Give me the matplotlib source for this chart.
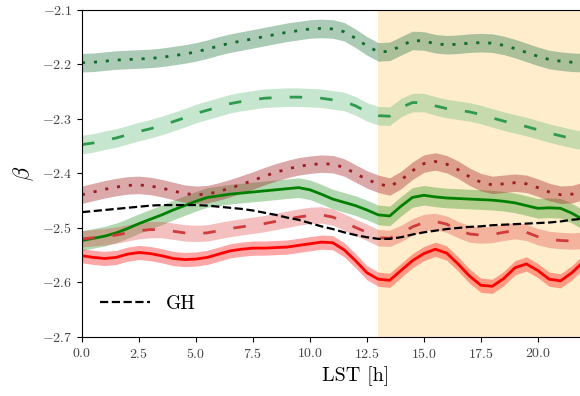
import numpy as np
import matplotlib
matplotlib.use('Agg')
import matplotlib.pyplot as plt

plt.rcParams['font.family'] = 'serif'
plt.rcParams['font.serif'] = ['cmr10', 'DejaVu Serif']
plt.rcParams['mathtext.fontset'] = 'cm'
plt.rcParams['axes.formatter.use_mathtext'] = True

# LST grid (h), values every half hour
lst = np.arange(0, 24.5, 0.5)

dark_green_dot = [-2.197, -2.196, -2.194, -2.192, -2.191, -2.190, -2.189, -2.187, -2.184, -2.181,
                  -2.177, -2.172, -2.166, -2.161, -2.157, -2.153, -2.149, -2.145, -2.141, -2.138,
                  -2.135, -2.134, -2.135, -2.140, -2.152, -2.166, -2.177, -2.176, -2.166, -2.156,
                  -2.157, -2.162, -2.164, -2.163, -2.161, -2.160, -2.161, -2.165, -2.171, -2.178,
                  -2.185, -2.191, -2.194, -2.196, -2.197, -2.198, -2.199, -2.200, -2.200]
green_dash = [-2.347, -2.344, -2.339, -2.335, -2.329, -2.323, -2.318, -2.312, -2.305, -2.298,
              -2.290, -2.284, -2.278, -2.272, -2.268, -2.265, -2.262, -2.261, -2.260, -2.260,
              -2.261, -2.262, -2.265, -2.268, -2.276, -2.287, -2.294, -2.295, -2.279, -2.270,
              -2.270, -2.276, -2.281, -2.284, -2.287, -2.292, -2.298, -2.304, -2.309, -2.314,
              -2.320, -2.326, -2.331, -2.336, -2.340, -2.343, -2.346, -2.348, -2.350]
green_solid = [-2.523, -2.519, -2.515, -2.509, -2.501, -2.492, -2.484, -2.476, -2.467, -2.459,
               -2.451, -2.444, -2.441, -2.438, -2.436, -2.434, -2.432, -2.430, -2.428, -2.426,
               -2.430, -2.438, -2.447, -2.453, -2.459, -2.467, -2.476, -2.478, -2.460, -2.444,
               -2.440, -2.443, -2.445, -2.446, -2.447, -2.448, -2.449, -2.451, -2.454, -2.459,
               -2.464, -2.463, -2.464, -2.473, -2.485, -2.492, -2.497, -2.500, -2.502]
dark_red_dot = [-2.439, -2.434, -2.429, -2.425, -2.422, -2.421, -2.423, -2.427, -2.432, -2.437,
                -2.439, -2.438, -2.433, -2.427, -2.420, -2.413, -2.405, -2.398, -2.392, -2.387,
                -2.384, -2.382, -2.383, -2.389, -2.400, -2.411, -2.419, -2.424, -2.412, -2.395,
                -2.382, -2.378, -2.383, -2.393, -2.406, -2.416, -2.421, -2.419, -2.417, -2.419,
                -2.426, -2.434, -2.439, -2.438, -2.432, -2.428, -2.426, -2.425, -2.425]
red_dash = [-2.520, -2.518, -2.516, -2.513, -2.509, -2.505, -2.503, -2.503, -2.506, -2.509,
            -2.510, -2.509, -2.505, -2.501, -2.498, -2.495, -2.492, -2.488, -2.484, -2.480,
            -2.477, -2.476, -2.480, -2.489, -2.499, -2.508, -2.518, -2.519, -2.510, -2.498,
            -2.490, -2.488, -2.493, -2.503, -2.511, -2.513, -2.512, -2.508, -2.505, -2.508,
            -2.516, -2.521, -2.523, -2.524, -2.523, -2.520, -2.518, -2.517, -2.517]
red_solid = [-2.551, -2.554, -2.556, -2.554, -2.548, -2.545, -2.547, -2.551, -2.556, -2.558,
             -2.557, -2.554, -2.548, -2.542, -2.539, -2.537, -2.537, -2.536, -2.535, -2.532,
             -2.529, -2.526, -2.527, -2.540, -2.560, -2.582, -2.594, -2.596, -2.578, -2.560,
             -2.547, -2.539, -2.546, -2.566, -2.588, -2.605, -2.607, -2.593, -2.573, -2.566,
             -2.578, -2.594, -2.597, -2.582, -2.562, -2.550, -2.545, -2.545, -2.548]
gh = [-2.471, -2.469, -2.467, -2.465, -2.463, -2.461, -2.459, -2.458, -2.458, -2.458,
      -2.458, -2.459, -2.461, -2.463, -2.465, -2.468, -2.472, -2.476, -2.481, -2.485,
      -2.491, -2.497, -2.502, -2.508, -2.513, -2.517, -2.520, -2.520, -2.517, -2.512,
      -2.508, -2.505, -2.502, -2.500, -2.498, -2.497, -2.495, -2.494, -2.493, -2.492,
      -2.491, -2.490, -2.488, -2.485, -2.483, -2.481, -2.479, -2.477, -2.475]

# half width of the shaded uncertainty bands
band_width = [0.017, 0.017, 0.018, 0.016, 0.015, 0.013]

night_start, night_end = 13.0, 24.0

series = [dark_green_dot, green_dash, green_solid, dark_red_dot, red_dash, red_solid]
line_colors = ['#0f6a2c', '#2e9a4e', 'green', '#9e1a26', '#d03a3a', 'red']
fill_colors = ['#2e7d4a', '#5fb878', 'green', 'brown', '#e04848', 'red']
fill_alpha = [0.4, 0.35, 0.3, 0.4, 0.35, 0.35]
dash_patterns = [(1.1, 3.2), (4.5, 6.5), None, (1.1, 3.2), (4.5, 6.5), None]

fig = plt.figure(figsize=(5.8, 3.96), dpi=100)
ax = fig.add_axes([0.1414, 0.149, 0.943, 0.826])

ax.axvspan(night_start, night_end, color='orange', alpha=0.2, lw=0, zorder=0)

for vals, w, lc, fc, fa, dp in zip(series, band_width, line_colors, fill_colors, fill_alpha, dash_patterns):
    vals = np.array(vals)
    ax.fill_between(lst, vals - w, vals + w, color=fc, alpha=fa, lw=0)
    line, = ax.plot(lst, vals, color=lc, lw=2.0)
    if dp is not None:
        line.set_dashes(dp)

ax.plot(lst, gh, '--', color='black', lw=1.6, label='GH')

ax.set_xlim(0, 24)
ax.set_ylim(-2.7, -2.1)
ax.set_xticks([0, 2.5, 5, 7.5, 10, 12.5, 15, 17.5, 20])
ax.set_yticks([-2.7, -2.6, -2.5, -2.4, -2.3, -2.2, -2.1])
ax.tick_params(labelsize=10, labelcolor='#444444')
ax.set_xlabel('LST [h]', fontsize=14.5)
ax.set_ylabel(r'$\beta$', fontsize=16)
ax.legend(loc='lower left', frameon=False, fontsize=14, handlelength=2.6,
          bbox_to_anchor=(0.0, 0.02))

fig.savefig('out.png', dpi=100)
